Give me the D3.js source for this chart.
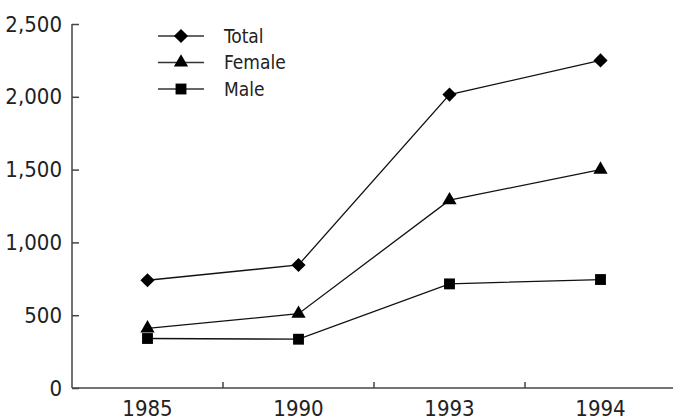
<!DOCTYPE html>
<html lang="en">
<head>
<meta charset="UTF-8"/>
<title>Total, Female, Male 1985-1994</title>
<script src="https://d3js.org/d3.v7.min.js"></script>
<style>
  body { margin: 0; background: #fff; }
  text { font-family: "DejaVu Sans Condensed", "DejaVu Sans", sans-serif; fill: #222; }
</style>
</head>
<body>
<script>
var w = 673;
var h = 420;

// data
var years = ["1985", "1990", "1993", "1994"];
var total = [740, 845, 2015, 2250];
var female = [410, 510, 1290, 1500];
var male = [340, 335, 715, 745];
var yTicks = [0, 500, 1000, 1500, 2000, 2500];
var seriesNames = ["Total", "Female", "Male"];

var series = [
    { name: seriesNames[0], values: total, shape: "diamond" },
    { name: seriesNames[1], values: female, shape: "triangle" },
    { name: seriesNames[2], values: male, shape: "square" }
];

var padLeft = 72, padRight = 676, padTop = 24, padBottom = 388;

var xScale = d3.scaleBand().domain(years).range([padLeft, padRight]).padding(0);
var yScale = d3.scaleLinear().domain([0, 2500]).range([padBottom, padTop]);

var svg = d3.select("body").append("svg")
    .attr("width", w)
    .attr("height", h);

function symbolFor(shape) {
    if (shape == "diamond") return d3.symbol().type(d3.symbolSquare).size(100)();
    if (shape == "triangle") return d3.symbol().type(d3.symbolTriangle).size(88)();
    return d3.symbol().type(d3.symbolSquare).size(118)();
}
function rotFor(shape) { return shape == "diamond" ? " rotate(45)" : ""; }

/* Y axis */
var yAxis = d3.axisLeft(yScale)
    .tickValues(yTicks)
    .tickSize(-7)
    .tickPadding(10)
    .tickFormat(d3.format(","));

var gy = svg.append("g")
    .attr("transform", "translate(" + padLeft + ",0)")
    .call(yAxis);
gy.select(".domain").remove();
gy.selectAll("line").attr("stroke", "#444").attr("stroke-width", 1.5);
gy.selectAll("text").attr("font-size", "22px").attr("fill", "#222")
    .attr("font-family", "'DejaVu Sans Condensed', 'DejaVu Sans', sans-serif");

/* X axis */
var xAxis = d3.axisBottom(xScale).tickSize(0);
var gx = svg.append("g")
    .attr("transform", "translate(0," + padBottom + ")")
    .call(xAxis);
gx.select(".domain").remove();
gx.selectAll("text")
    .attr("y", 28).attr("dy", "0")
    .attr("font-size", "22px").attr("fill", "#222")
    .attr("font-family", "'DejaVu Sans Condensed', 'DejaVu Sans', sans-serif");

// tick marks between the categories
svg.selectAll(".xtick")
    .data(years.slice(1))
    .enter().append("line")
    .attr("class", "xtick")
    .attr("x1", d => xScale(d)).attr("x2", d => xScale(d))
    .attr("y1", padBottom).attr("y2", padBottom - 6)
    .attr("stroke", "#444").attr("stroke-width", 1.5);

// axis lines
svg.append("line")
    .attr("x1", padLeft).attr("x2", padLeft)
    .attr("y1", yScale(2500)).attr("y2", padBottom)
    .attr("stroke", "#444").attr("stroke-width", 1.5);
svg.append("line")
    .attr("x1", padLeft).attr("x2", padRight)
    .attr("y1", padBottom).attr("y2", padBottom)
    .attr("stroke", "#444").attr("stroke-width", 1.5);

/* Lines and markers */
var cx = d => xScale(d) + xScale.bandwidth() / 2;
var line = d3.line()
    .x((v, i) => cx(years[i]))
    .y(v => yScale(v));

series.forEach(function(s) {
    svg.append("path")
        .datum(s.values)
        .attr("d", line)
        .attr("fill", "none")
        .attr("stroke", "#111")
        .attr("stroke-width", 1.3);

    svg.selectAll(".m-" + s.shape)
        .data(s.values)
        .enter().append("path")
        .attr("class", "m-" + s.shape)
        .attr("d", symbolFor(s.shape))
        .attr("transform", (v, i) => "translate(" + cx(years[i]) + "," + yScale(v) + ")" + rotFor(s.shape))
        .attr("fill", "#000");
});

/* Legend */
var legend = svg.append("g");
var rowY = d3.scalePoint().domain(seriesNames).range([36, 89]);

series.forEach(function(s) {
    var y = rowY(s.name);
    legend.append("line")
        .attr("x1", 158).attr("x2", 204)
        .attr("y1", y).attr("y2", y)
        .attr("stroke", "#333").attr("stroke-width", 1.5);
    legend.append("path")
        .attr("d", symbolFor(s.shape))
        .attr("transform", "translate(181," + y + ")" + rotFor(s.shape))
        .attr("fill", "#000");
    legend.append("text")
        .attr("x", 224)
        .attr("y", y)
        .attr("dy", "0.35em")
        .attr("font-size", "19px")
        .text(s.name);
});
</script>
</body>
</html>
